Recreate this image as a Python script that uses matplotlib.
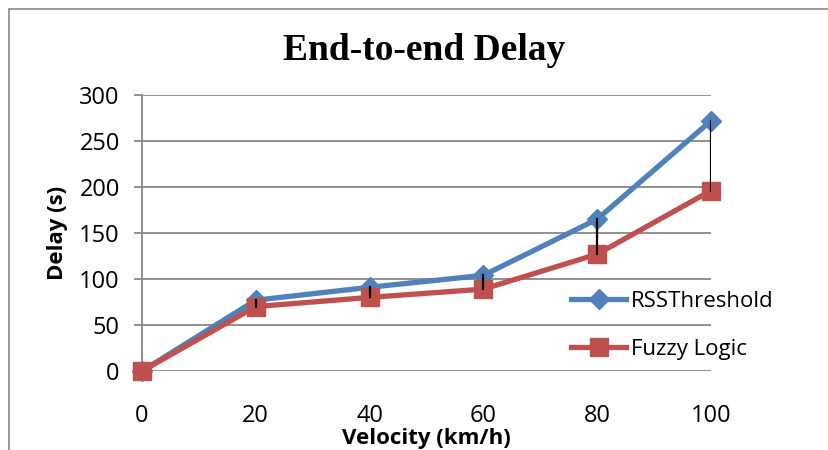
import matplotlib
matplotlib.use("Agg")
import matplotlib.pyplot as plt
from matplotlib.patches import Rectangle

velocity = [0, 20, 40, 60, 80, 100]
rss_delay = [0, 77, 91, 104, 165, 272]
fuzzy_delay = [0, 70, 80, 89, 127, 196]
yticks = [0, 50, 100, 150, 200, 250, 300]

C_BLUE = "#4F81BD"
C_RED = "#C0504D"
C_GRID = "#888888"
SANS = ["Open Sans", "DejaVu Sans"]

fig = plt.figure(figsize=(8.29, 4.5), dpi=100)
fig.patches.append(Rectangle((9 / 829, -0.1), 1.1, 1 - 9 / 450 + 0.1, transform=fig.transFigure,
                             facecolor="none", edgecolor=C_GRID, lw=1.2))

ax = fig.add_axes([142 / 829, 1 - 371 / 450, (711 - 142) / 829, (371 - 95) / 450])

# high-low lines between the two series
for x, hi, lo in zip(velocity[1:], rss_delay[1:], fuzzy_delay[1:]):
    ax.plot([x, x], [hi, lo], color="black", lw=1.6, zorder=5)

ax.plot(velocity, rss_delay, color=C_BLUE, lw=3.8, marker="D", ms=10,
        label="RSSThreshold", zorder=3, clip_on=False)
ax.plot(velocity, fuzzy_delay, color=C_RED, lw=3.8, marker="s", ms=13,
        label="Fuzzy Logic", zorder=4, clip_on=False)

ax.set_xlim(0, 100)
ax.set_ylim(0, 300)
ax.set_xticks(velocity)
ax.set_yticks(yticks)
ax.grid(axis="y", color=C_GRID, lw=1.3, zorder=0)
for s in ["top", "right", "bottom"]:
    ax.spines[s].set_visible(False)
ax.spines["left"].set_color(C_GRID)
ax.spines["left"].set_linewidth(1.3)
ax.tick_params(axis="y", length=6, width=1.3, color=C_GRID, pad=10)
ax.tick_params(axis="x", length=0, pad=24)
for lab in ax.get_xticklabels() + ax.get_yticklabels():
    lab.set_family(SANS)
    lab.set_fontsize(17)

ax.set_xlabel("Velocity (km/h)", family=SANS, fontsize=16, weight="bold", labelpad=0)
ax.set_ylabel("Delay (s)", family=SANS, fontsize=16, weight="bold", labelpad=8)

fig.text(424 / 829, 1 - 50 / 450, "End-to-end Delay", ha="center", va="center",
         family=["Liberation Serif", "DejaVu Serif"], fontsize=27, weight="bold")

leg = ax.legend(loc="upper left", bbox_to_anchor=((562 - 142) / 569, (371 - 282) / 276),
                frameon=False, prop={"family": SANS, "size": 16}, handlelength=2.5,
                handletextpad=0.2, labelspacing=1.2, borderaxespad=0)

fig.savefig("out.png", dpi=100, facecolor="white")
